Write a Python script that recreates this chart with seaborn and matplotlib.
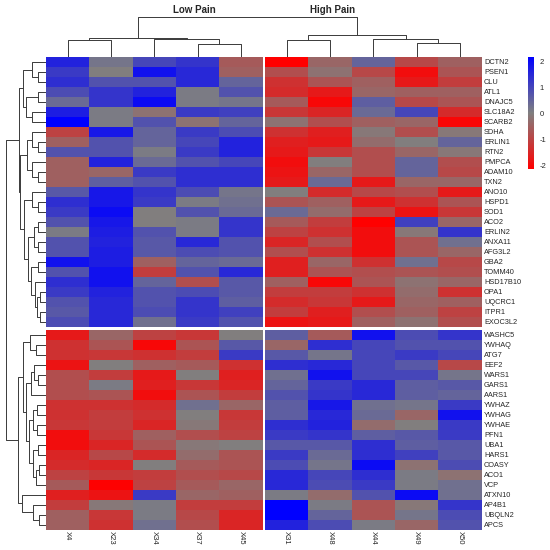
import numpy as np
import pandas as pd
import matplotlib
matplotlib.use("Agg")
import matplotlib.pyplot as plt
import seaborn as sns
from matplotlib.colors import LinearSegmentedColormap

# ---------------- data ----------------
genes_top = ["DCTN2", "PSEN1", "CLU", "ATL1", "DNAJC5", "SLC18A2", "SCARB2", "SDHA",
             "ERLIN1", "RTN2", "PMPCA", "ADAM10", "TXN2", "ANO10", "HSPD1", "SOD1",
             "ACO2", "ERLIN2", "ANXA11", "AFG3L2", "GBA2", "TOMM40", "HSD17B10",
             "OPA1", "UQCRC1", "ITPR1", "EXOC3L2"]
genes_bottom = ["WASHC5", "YWHAQ", "ATG7", "EEF2", "WARS1", "GARS1", "AARS1", "YWHAZ",
                "YWHAG", "YWHAE", "PFN1", "UBA1", "HARS1", "COASY", "ACO1", "VCP",
                "ATXN10", "AP4B1", "UBQLN2", "APCS"]
low_pain_cols = ["X4", "X23", "X34", "X37", "X45"]
high_pain_cols = ["X31", "X48", "X44", "X49", "X50"]
group_titles = ["Low Pain", "High Pain"]

# top gene cluster, low pain samples
X4_top = [1.6, 1.2, 1.4, 0.9, 0.4, 1.7, 2.2, -1.0, -0.5, 0.8, -0.5, -0.5, -0.5, 0.7, 1.4,
          1.2, 0.8, 0.1, 0.8, 0.8, 1.9, 0.8, 1.4, 1.2, 0.8, 0.7, 0.9]
X23_top = [0.2, 0.0, 0.8, 1.3, 1.3, 0.1, 0.1, 1.8, 0.8, 0.8, 1.6, -0.4, 0.6, 1.8, 1.8,
           2.0, 1.8, 1.7, 1.6, 1.7, 1.7, 1.9, 1.9, 1.6, 1.5, 1.5, 1.5]
X34_top = [1.0, 1.9, 0.8, 1.6, 2.0, -0.2, 0.8, 0.5, 0.5, 0.1, 0.4, 1.2, 0.8, 1.3, 1.2,
           0.0, 0.0, 0.8, 0.7, 0.7, -0.5, -1.1, 0.5, 0.8, 0.8, 0.9, 0.3]
X37_top = [1.3, 1.5, 1.5, 0.1, 0.1, 1.2, -0.2, 1.2, 1.0, 1.2, 0.8, 1.4, 1.4, 0.9, 0.1,
           0.8, 0.1, 0.1, 1.5, 0.9, 0.5, 0.8, -0.8, 0.9, 1.3, 1.3, 1.2]
X45_top = [-0.6, -0.5, 0.5, 0.8, 0.2, 1.1, 0.5, 0.9, 1.6, 1.6, 1.0, 1.4, 1.4, 0.2, 0.3,
           0.4, 1.3, 1.3, 0.8, 0.8, 0.4, 1.5, 0.7, 0.7, 0.6, 1.1, 0.8]
# top gene cluster, high pain samples
X31_top = [-2.2, -0.8, -1.3, -1.4, -0.6, -1.2, -0.2, -1.3, -1.6, -1.7, -1.9, -1.8, -1.7,
           0.0, -0.7, 0.4, -0.6, -1.0, -1.5, -0.8, -1.6, -1.6, -0.5, -1.1, -1.4, -1.1, -1.8]
X48_top = [-0.4, -0.2, -0.7, -1.7, -2.0, -1.5, -0.8, -1.6, -1.7, -1.2, 0.0, -0.4, 0.4,
           -1.4, -0.5, -0.3, -1.1, -1.3, -0.8, -1.3, -0.4, -0.7, -2.0, -1.1, -1.2, -1.6, -1.7]
X44_top = [0.5, -0.9, -0.5, -0.4, 0.6, 0.4, -0.5, -0.1, -0.3, -0.8, -0.8, -0.8, -1.7,
           -0.9, -1.7, -1.0, -2.2, -1.9, -1.9, -1.9, -1.3, -0.8, -0.7, -1.3, -1.7, -0.8, -0.5]
X49_top = [-0.9, -1.9, -1.7, -0.5, -0.9, 1.0, -0.4, -0.8, 0.0, -0.4, 0.5, 0.5, -0.4,
           -0.8, -1.3, -1.8, 1.1, -0.1, -0.7, -0.7, 0.3, -0.7, -0.2, -0.3, -0.4, -0.5, -0.2]
X50_top = [-0.5, -0.7, -1.1, -0.5, -0.7, -1.4, -2.0, -0.1, 0.5, -0.1, -0.8, -0.9, -0.4,
           -1.7, -0.7, -1.2, -0.4, 1.3, 0.3, -0.4, -0.9, -0.8, -0.4, -1.3, -0.5, -1.0, -0.8]

# bottom gene cluster, low pain samples
X4_bot = [-1.7, -1.3, -1.3, -1.8, -0.8, -0.8, -0.8, -1.3, -1.3, -1.2, -1.9, -1.9, -1.5,
          -1.4, -1.0, -0.6, -1.6, -1.1, -0.5, -0.5]
X23_bot = [-0.4, -0.7, -1.2, 0.0, -1.1, 0.1, -0.7, -1.3, -1.1, -1.1, -1.2, -1.5, -0.9,
           -1.5, -1.2, -2.1, -1.8, -0.1, -1.2, -1.3]
X34_bot = [-1.0, -2.0, -1.3, -0.5, -1.7, -1.6, -1.9, -1.4, -1.3, -1.5, -0.5, -0.7, -1.4,
           0.0, -1.1, -1.0, 1.2, 0.1, 0.1, 0.3]
X37_bot = [-1.2, -0.7, -1.1, -0.6, 0.0, -1.2, -0.7, 0.3, 0.0, -0.1, -0.8, -0.1, -0.3,
           -0.6, -0.8, -0.6, -0.4, -1.1, -0.9, -0.8]
X45_bot = [0.0, 0.7, 1.2, -1.3, -1.6, -1.5, -1.1, -0.4, -1.2, -1.1, -1.0, 0.0, -0.7,
           -0.7, -0.9, -0.4, -0.5, -1.1, -1.5, -1.5]
# bottom gene cluster, high pain samples
X31_bot = [0.6, -0.4, 0.7, 1.4, 0.3, 0.5, 0.8, 0.6, 0.6, 1.4, 1.2, 0.7, 1.2, 0.9, 1.5,
           1.5, 0.1, 2.4, 2.4, 1.6]
X48_bot = [-0.6, 1.4, 0.2, 1.5, 1.9, 1.2, 1.3, 1.8, 1.5, 1.6, 1.3, 0.7, 0.4, 0.2, 1.0,
           0.9, -0.3, 0.1, 0.5, 0.9]
X44_bot = [1.9, 1.0, 1.0, 1.0, 1.0, 1.5, 1.5, 0.3, 0.4, -0.3, 0.6, 1.4, 1.4, 2.0, 1.4,
           1.2, 0.8, -0.7, -0.7, 0.1]
X49_bot = [0.9, 0.8, 1.2, 0.7, 1.0, 0.6, 0.6, 0.2, -0.4, 0.0, 0.7, 0.6, 1.1, -0.2, 0.1,
           0.1, 2.0, -0.1, 0.2, -0.4]
X50_bot = [1.3, 0.8, 1.0, -0.9, 0.2, 0.7, 0.5, 1.2, 1.9, 1.2, 1.2, 0.7, 0.7, 0.9, -0.2,
           0.3, 0.3, 1.3, 0.9, 0.8]

# dendrograms: (left, right, merge height); ints are leaf indices
col_tree = (((0, 1, 17.0), (2, (3, 4, 13.0), 18.0), 19.0),
            ((5, 6, 16.7), (7, (8, 9, 14.3), 17.7), 22.0), 39.7)
row_tree_top = (((0, (1, 2, 8.3), 14.3), ((3, 4, 8.3), (5, 6, 14.3), 20.0), 23.3),
                (((7, (8, 9, 8.3), 13.7), (10, (11, 12, 8.3), 13.7), 19.3),
                 ((13, (14, 15, 8.3), 13.7),
                  (((16, 17, 8.3), (18, 19, 8.3), 12.0),
                   ((20, 21, 8.3), (22, ((23, 24, 6.5), (25, 26, 6.5), 9.0), 11.5), 15.0),
                   18.0), 22.0), 25.7), 26.7)
row_tree_bottom = (((0, (1, 2, 10.0), 16.0),
                    (((3, (4, 5, 8.0), 12.0), 6, 15.0),
                     (((7, 8, 9.0), (9, 10, 9.0), 13.0),
                      ((11, 12, 8.0), ((13, 14, 7.0), 15, 10.0), 13.0), 17.0), 20.0), 22.7),
                   (16, (17, (18, 19, 6.7), 12.7), 24.3), 27.7)
row_root_height = 40.0

# ---------------- style / layout ----------------
sns.set_theme(style="white")
plt.rcParams['font.family'] = ['Liberation Sans', 'DejaVu Sans']
plt.rcParams['axes.unicode_minus'] = False

W = H = 550
fig = plt.figure(figsize=(5.5, 5.5), dpi=100)
fig.patch.set_facecolor("white")


def ax_px(x0, y0, x1, y1):
    return fig.add_axes([x0 / W, 1 - y1 / H, (x1 - x0) / W, (y1 - y0) / H])


L0, L1 = 46.0, 262.5
R0, R1 = 265.0, 481.5
T0, T1 = 57.0, 327.0
B0, B1 = 329.5, 529.5

cmap = LinearSegmentedColormap.from_list("rgb", ["#FF0000", "#808080", "#0000FF"])
VMIN, VMAX = -2.13, 2.19

top_low = pd.DataFrame({"X4": X4_top, "X23": X23_top, "X34": X34_top, "X37": X37_top, "X45": X45_top},
                       index=genes_top)[low_pain_cols]
top_high = pd.DataFrame({"X31": X31_top, "X48": X48_top, "X44": X44_top, "X49": X49_top, "X50": X50_top},
                        index=genes_top)[high_pain_cols]
bot_low = pd.DataFrame({"X4": X4_bot, "X23": X23_bot, "X34": X34_bot, "X37": X37_bot, "X45": X45_bot},
                       index=genes_bottom)[low_pain_cols]
bot_high = pd.DataFrame({"X31": X31_bot, "X48": X48_bot, "X44": X44_bot, "X49": X49_bot, "X50": X50_bot},
                        index=genes_bottom)[high_pain_cols]

blocks = [
    (top_low, L0, L1, T0, T1, False, False),
    (top_high, R0, R1, T0, T1, True, False),
    (bot_low, L0, L1, B0, B1, False, True),
    (bot_high, R0, R1, B0, B1, True, True),
]
mappable = None
for df, x0, x1, y0, y1, show_y, show_x in blocks:
    ax = ax_px(x0, y0, x1, y1)
    sns.heatmap(df, ax=ax, cmap=cmap, vmin=VMIN, vmax=VMAX, cbar=False,
                xticklabels=show_x, yticklabels=show_y, linewidths=0)
    mappable = ax.collections[0]
    ax.set_xlabel("")
    ax.set_ylabel("")
    ax.tick_params(length=0)
    if show_y:
        ax.yaxis.tick_right()
        ax.tick_params(axis="y", pad=1.8)
        for t in ax.get_yticklabels():
            t.set_rotation(0)
            t.set_fontsize(5.3)
            t.set_ha("left")
    if show_x:
        ax.tick_params(axis="x", pad=1.2)
        for t in ax.get_xticklabels():
            t.set_rotation(270)
            t.set_fontsize(5.5)
            t.set_va("top")
            t.set_ha("center")

# colorbar
cax = ax_px(527.7, 56.7, 534.0, 169.0)
cb = fig.colorbar(mappable, cax=cax, ticks=[-2, -1, 0, 1, 2])
cb.outline.set_visible(False)
cax.tick_params(length=0, labelsize=5.5, pad=4)

# group titles
fig.text(194 / W, 1 - 10 / H, group_titles[0], ha="center", va="center",
         fontsize=7, fontweight="bold")
fig.text(333 / W, 1 - 10 / H, group_titles[1], ha="center", va="center",
         fontsize=7, fontweight="bold")


def layout_tree(node, leafpos, segs):
    if isinstance(node, int):
        return leafpos(node), 0.0
    a, b, h = node
    pa, ha = layout_tree(a, leafpos, segs)
    pb, hb = layout_tree(b, leafpos, segs)
    segs.append(([pa, pa, pb, pb], [ha, h, h, hb]))
    return (pa + pb) / 2.0, h


LINE = dict(color="#3a3a3a", lw=0.7, solid_capstyle="butt")

# column dendrogram
ncl, nch = len(low_pain_cols), len(high_pain_cols)
cwl = (L1 - L0) / ncl
cwh = (R1 - R0) / nch


def col_pos(i):
    return L0 + (i + 0.5) * cwl if i < ncl else R0 + (i - ncl + 0.5) * cwh


cax_d = ax_px(L0, 10, R1, T0)
segs = []
layout_tree(col_tree, col_pos, segs)
for xs, ys in segs:
    cax_d.plot(xs, ys, **LINE)
cax_d.set_xlim(L0, R1)
cax_d.set_ylim(0, T0 - 10)
cax_d.axis("off")

# row dendrogram
nt, nb = len(genes_top), len(genes_bottom)
rht = (T1 - T0) / nt
rhb = (B1 - B0) / nb

rax = ax_px(0, T0, L0, B1)
segs = []
pt, ht = layout_tree(row_tree_top, lambda i: T0 + (i + 0.5) * rht, segs)
pb, hb = layout_tree(row_tree_bottom, lambda i: B0 + (i + 0.5) * rhb, segs)
segs.append(([pt, pt, pb, pb], [ht, row_root_height, row_root_height, hb]))
for ys, xs in segs:
    rax.plot(xs, ys, **LINE)
rax.set_xlim(L0, 0)
rax.set_ylim(B1, T0)
rax.axis("off")

fig.savefig("out.png", dpi=100, facecolor="white")
